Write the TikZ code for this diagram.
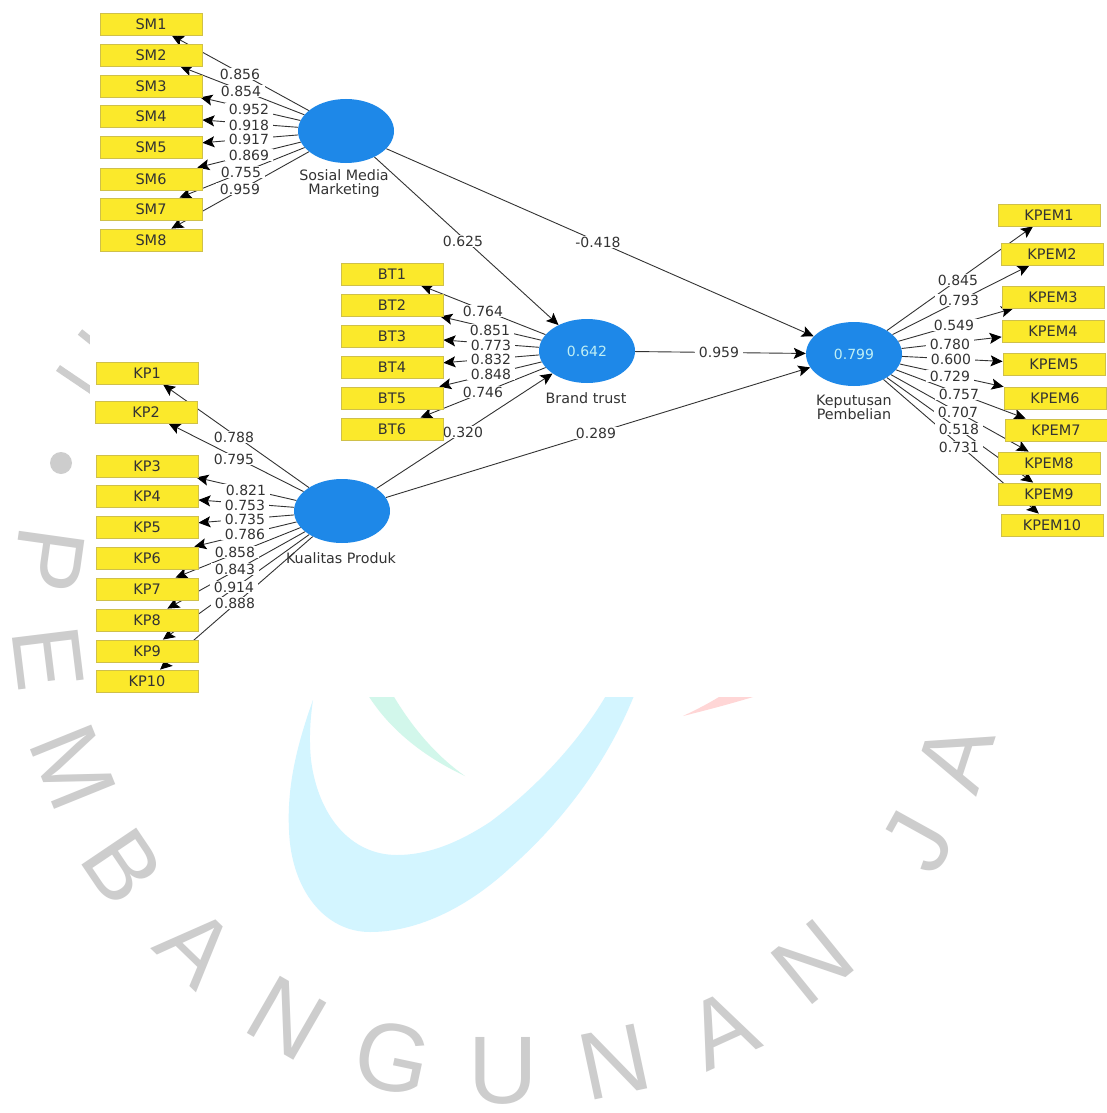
\documentclass[tikz,border=0pt]{standalone}
\usepackage{fontspec}
\setmainfont{DejaVu Sans}
\newfontfamily\wmfont{Liberation Sans}
\usetikzlibrary{shapes.geometric,arrows.meta}
\pgfdeclarelayer{wm}
\pgfdeclarelayer{edges}
\pgfsetlayers{wm,edges,main}
\definecolor{boxy}{HTML}{FBE92B}
\definecolor{boxb}{HTML}{CFC04A}
\definecolor{lvb}{HTML}{1E88E8}
\definecolor{ink}{HTML}{333333}
\definecolor{wmgray}{HTML}{CDCDCD}
\definecolor{swcyan}{HTML}{D3F5FF}
\definecolor{swgreen}{HTML}{D2F7EB}
\definecolor{swred}{HTML}{FFD6D6}
\definecolor{lvtext}{HTML}{BFEFF5}
\tikzset{
  ind/.style={rectangle,fill=boxy,draw=boxb,line width=0.8pt,minimum width=102pt,minimum height=22pt,inner sep=0pt,text=ink,font=\fontsize{14.5}{15}\selectfont},
  lv/.style={ellipse,fill=lvb,minimum width=96pt,minimum height=64pt,inner sep=0pt,text=lvtext,font=\fontsize{14}{15}\selectfont},
  lvcap/.style={align=center,text=ink,inner sep=0pt,font=\fontsize{14.3}{14}\selectfont},
  lab/.style={fill=white,text=ink,inner xsep=4pt,inner ysep=1pt,font=\fontsize{14}{14}\selectfont},
  arr/.style={draw=ink,line width=0.9pt,-{Stealth[length=12pt,width=11pt,inset=2.5pt,color=black]}},
  wml/.style={text=wmgray,inner sep=0pt,font=\wmfont\fontsize{96}{96}\selectfont}
}
\begin{document}
\begin{tikzpicture}[x=1pt,y=-1pt]
\useasboundingbox (0,0) rectangle (1106,1113);
\begin{pgfonlayer}{wm}
\fill[white] (0,0) rectangle (1106,1113);
% watermark
\fill[wmgray] (61,463) circle (11);
\draw[wmgray,line width=7pt] (58,368) -- (95,393);
\draw[wmgray,line width=7pt] (80,332) -- (95,344);
\node[wml,rotate=-98] (wP) at (49,560) {P};
\node[wml,rotate=-83] (wE) at (48,658) {E};
\node[wml,rotate=-68] (wM) at (73,767) {M};
\node[wml,rotate=-56] (wB) at (123,867) {B};
\node[wml,rotate=-44] (wA) at (196,947) {A};
\node[wml,rotate=-30] (wN) at (287,1018) {N};
\node[wml,rotate=-12] (wG) at (393,1058) {G};
\node[wml,rotate=0] (wU) at (503,1071) {U};
\node[wml,rotate=12] (wNb) at (615,1062) {N};
\node[wml,rotate=24.5] (wAb) at (722,1029) {A};
\node[wml,rotate=39] (wNc) at (813,962) {N};
\node[wml,rotate=61] (wJ) at (918,842) {J};
\node[wml,rotate=72] (wAc) at (955,757) {A};
% swoosh
\fill[swcyan] (313,700) .. controls (295,750) and (287,790) .. (289,830) .. controls (291,890) and (325,932) .. (370,932) .. controls (420,932) and (470,905) .. (510,868) .. controls (570,815) and (615,750) .. (640,680) -- (612,685) .. controls (585,735) and (540,785) .. (490,822) .. controls (455,845) and (425,855) .. (397,855) .. controls (350,855) and (318,815) .. (311,760) .. controls (309,740) and (310,720) .. (313,700) -- cycle;
\fill[swgreen] (365,690) .. controls (385,725) and (420,755) .. (465,776) .. controls (435,755) and (410,725) .. (390,690) -- cycle;
\fill[swred] (683,716) .. controls (700,708) and (715,700) .. (730,690) -- (775,690) .. controls (745,700) and (715,708) .. (683,716) -- cycle;
\fill[white] (90,0) rectangle (1106,697);
\end{pgfonlayer}
% latent variables
\node[lv] (sm) at (346,131) {};
\node[lv] (kp) at (342,511) {};
\node[lv] (bt) at (587,351) {0.642};
\node[lv] (kd) at (854,354) {0.799};
\node[lvcap] (csm) at (344,184) {Sosial Media\\Marketing};
\node[lvcap] (ckp) at (341,558) {Kualitas Produk};
\node[lvcap] (cbt) at (586,398) {Brand trust};
\node[lvcap] (ckd) at (854,407) {Keputusan\\Pembelian};
% indicators
\foreach \n/\t/\x/\y in {
 SMa/SM1/151/24, SMb/SM2/151/55, SMc/SM3/151/86, SMd/SM4/151/116,
 SMe/SM5/151/147, SMf/SM6/151/179, SMg/SM7/151/209, SMh/SM8/151/240}
{
 \node[ind] (\n) at (\x,\y) {\t};
 \begin{pgfonlayer}{edges}\draw[arr] (sm) -- (\n);\end{pgfonlayer}
}
\foreach \n/\t/\x/\y in {
 KPa/KP1/147/373, KPb/KP2/146/412, KPc/KP3/147/466, KPd/KP4/147/496,
 KPe/KP5/147/527, KPf/KP6/147/558, KPg/KP7/147/589, KPh/KP8/147/620,
 KPi/KP9/147/651, KPj/KP10/147/681}
{
 \node[ind] (\n) at (\x,\y) {\t};
 \begin{pgfonlayer}{edges}\draw[arr] (kp) -- (\n);\end{pgfonlayer}
}
\foreach \n/\t/\x/\y in {
 BTa/BT1/392/274, BTb/BT2/392/305, BTc/BT3/392/336,
 BTd/BT4/392/367, BTe/BT5/392/398, BTf/BT6/392/429}
{
 \node[ind] (\n) at (\x,\y) {\t};
 \begin{pgfonlayer}{edges}\draw[arr] (bt) -- (\n);\end{pgfonlayer}
}
\foreach \n/\t/\x/\y in {
 Ka/KPEM1/1049/215, Kb/KPEM2/1052/254, Kc/KPEM3/1053/297,
 Kd/KPEM4/1053/331, Ke/KPEM5/1054/364, Kf/KPEM6/1055/398,
 Kg/KPEM7/1056/430, Kh/KPEM8/1049/463, Ki/KPEM9/1049/494, Kj/KPEM10/1052/525}
{
 \node[ind] (\n) at (\x,\y) {\t};
 \begin{pgfonlayer}{edges}\draw[arr] (kd) -- (\n);\end{pgfonlayer}
}
\begin{pgfonlayer}{edges}
\draw[arr] (sm) -- (bt);
\draw[arr] (sm) -- (kd);
\draw[arr] (kp) -- (bt);
\draw[arr] (kp) -- (kd);
\draw[arr] (bt) -- (kd);
\foreach \l/\lx/\ly [count=\i] in {
 0.856/240/74, 0.854/241/91, 0.952/249/109, 0.918/249/125, 0.917/249/139, 0.869/249/155, 0.755/241/172, 0.959/240/189,
 0.788/234/437, 0.795/234/459, 0.821/246/490, 0.753/245/505, 0.735/245/519, 0.786/245/534, 0.858/235/552, 0.843/235/569, 0.914/234/587, 0.888/235/603,
 0.764/483/311, 0.851/490/330, 0.773/491/345, 0.832/491/359, 0.848/491/374, 0.746/483/392,
 0.845/958/280, 0.793/959/300, 0.549/954/325, 0.780/950/344, 0.600/951/359, 0.729/950/376, 0.757/959/394, 0.707/958/412, 0.518/959/429, 0.731/959/447,
 0.625/463/241, -0.418/598/242, 0.320/463/432, 0.289/596/433, 0.959/719/352}
{ \node[lab] (lab\i) at (\lx,\ly) {\l}; }
\end{pgfonlayer}
\end{tikzpicture}
\end{document}
